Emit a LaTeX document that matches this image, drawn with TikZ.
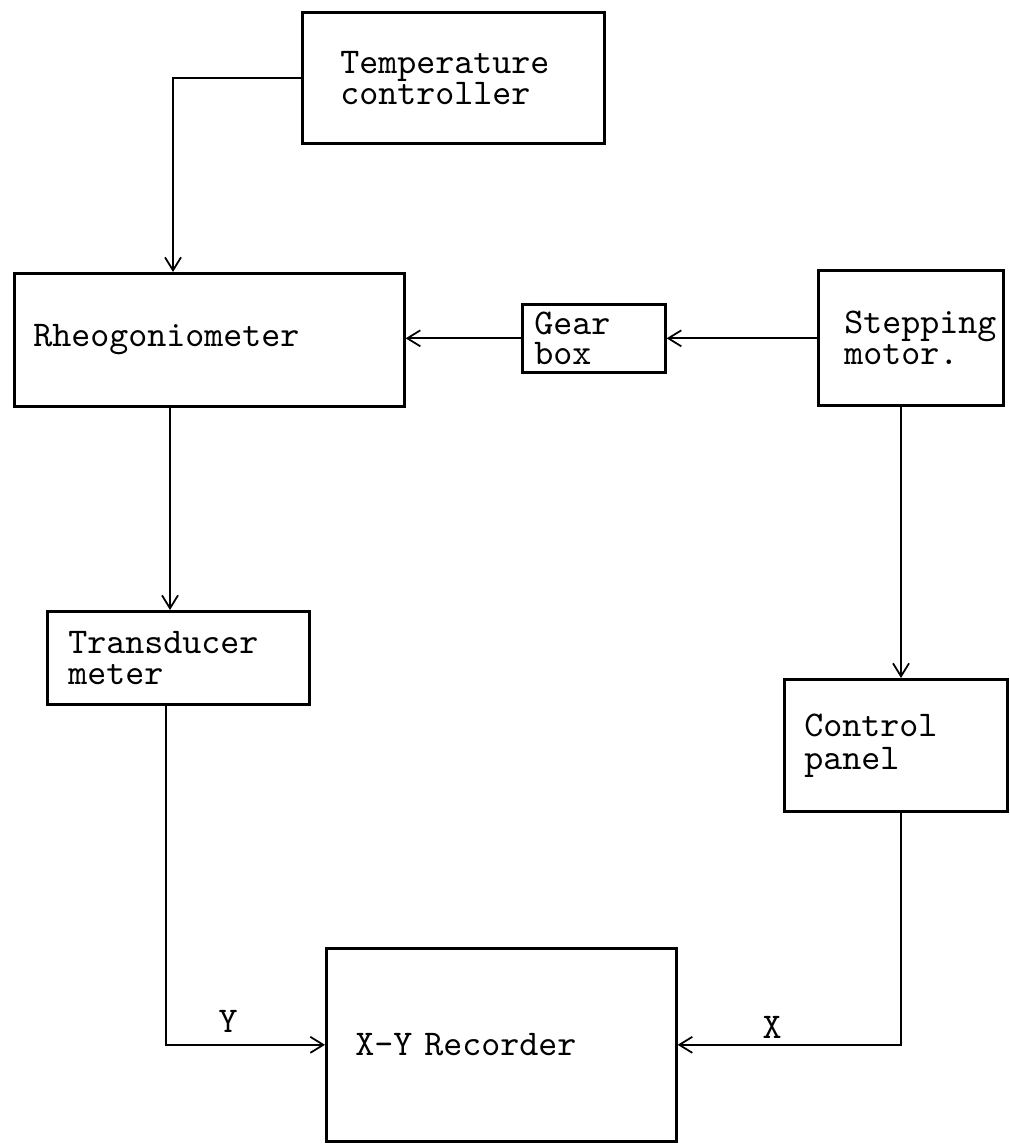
\documentclass[tikz,border=0pt]{standalone}
\usepackage{fontspec}
\usetikzlibrary{arrows.meta, positioning, calc}
\newcommand{\typeset}[1]{\fontsize{10.3}{#1}\selectfont\ttfamily}

\begin{document}
\begin{tikzpicture}[x=0.1mm, y=-0.1mm,
      blk/.style={draw, line width=0.75pt, anchor=north west, align=left,
         inner ysep=0pt, font=\typeset{8.8pt}},
      lbl/.style={anchor=base, inner sep=0pt, font=\typeset{8.8pt}},
      arr/.style={line width=0.5pt, -{Straight Barb[length=1.3mm, width=1.6mm]}}]
      \useasboundingbox (0,0) rectangle (1010,1145);
      % Blocks
      \node[blk, text width=22.6mm, inner xsep=3.8mm, minimum height=13.1mm]
         (temp) at (301,11) {Temperature\\controller};
      \node[blk, text width=35.2mm, inner xsep=1.9mm, minimum height=13.3mm]
         (rheo) at (13,272) {Rheogoniometer};
      \node[blk, text width=11.9mm, inner xsep=1.2mm, minimum height=6.8mm]
         (gear) at (521,303) {Gear\\box};
      \node[blk, text width=13.3mm, inner xsep=2.6mm, minimum height=13.5mm]
         (step) at (817,269) {Stepping\\motor.};
      \node[blk, text width=22.0mm, inner xsep=2.1mm, minimum height=9.3mm]
         (trans) at (46,610) {Transducer\\meter};
      \node[blk, text width=18.3mm, inner xsep=2.0mm, minimum height=13.2mm,
         font=\typeset{9.4pt}] (ctrl) at (783,678) {Control\\panel};
      \node[blk, text width=29.2mm, inner xsep=2.9mm, minimum height=19.3mm]
         (rec) at (325,947) {X-Y Recorder};
      % Signal lines
      \draw[arr] (temp.west) -| ($(rheo.north west)+(160,0)$);
      \draw[arr] (rheo.south -| 170,0) -- (trans.north -| 170,0);
      \draw[arr] (step.west |- gear.east) -- (gear.east);
      \draw[arr] (gear.west) -- (gear.west -| rheo.east);
      \draw[arr] (step.south -| 901,0) -- (ctrl.north -| 901,0);
      \draw[arr] (trans.south -| 166,0) |- (rec.west);
      \draw[arr] (ctrl.south -| 901,0) |- (rec.east);
      % Recorder inputs
      \node[lbl] (ylab) at (228,1032) {Y};
      \node[lbl] (xlab) at (772,1038) {X};
   \end{tikzpicture}
\end{document}
